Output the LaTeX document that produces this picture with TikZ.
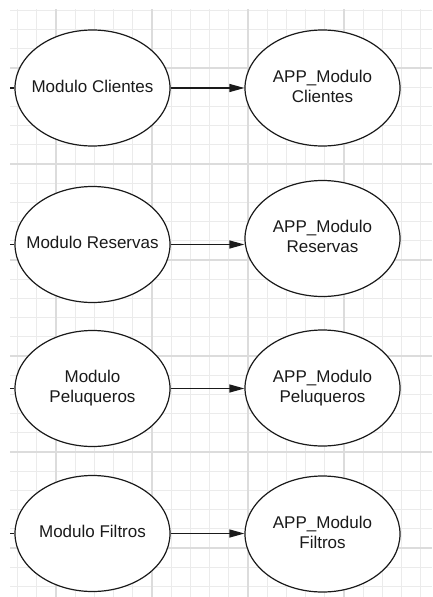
\documentclass[tikz,border=0pt]{standalone}
\usepackage{fontspec}
\setmainfont{Liberation Sans}
\usetikzlibrary{shapes.geometric,arrows.meta}

\definecolor{gridminor}{HTML}{EBEBEB}
\definecolor{gridmajor}{HTML}{DCDCDC}
\definecolor{ink}{HTML}{1A1A1A}

% label of zero width, so every ellipse keeps the same fixed size
\newcommand\modlabel[1]{\makebox[0pt]{\begin{tabular}{@{}c@{}}#1\end{tabular}}}

\tikzset{
  minorline/.style={draw=gridminor, line width=1pt},
  majorline/.style={draw=gridmajor, line width=1.1pt},
  module/.style={ellipse, draw=ink, line width=1.2pt, fill=white,
    minimum width=155pt, minimum height=116pt, inner sep=0pt,
    text=ink, font=\fontsize{17}{20}\selectfont},
  link/.style={draw=ink, line width=1.2pt,
    -{Triangle[length=15pt,width=8pt]}},
  stub/.style={draw=ink, line width=1.2pt}
}

\begin{document}
\begin{tikzpicture}[x=1pt,y=-1pt]
\useasboundingbox[fill=white] (0,0) rectangle (432,597);

% background grid
\begin{scope}
  \clip (10,9) rectangle (432,597);
  \foreach \i in {-8,...,15} {
    \draw[minorline] ({152+19.2*\i},9) -- ({152+19.2*\i},597);
  }
  \foreach \i in {-8,...,23} {
    \draw[minorline] (10,{164+19.2*\i}) -- (432,{164+19.2*\i});
  }
  \foreach \i in {-1,...,2} {
    \draw[majorline] ({152+96*\i},9) -- ({152+96*\i},597);
  }
  \foreach \i in {-1,...,4} {
    \draw[majorline] (10,{164+96*\i}) -- (432,{164+96*\i});
  }
\end{scope}

% modules
\node[module] (cli)  at (92.5,88)    {\modlabel{Modulo Clientes}};
\node[module] (acli) at (322.5,88)   {\modlabel{APP\_Modulo\\Clientes}};

\node[module] (res)  at (92.5,244.5) {\modlabel{Modulo Reservas}};
\node[module] (ares) at (322.5,238.5){\modlabel{APP\_Modulo\\Reservas}};

\node[module] (pel)  at (92.5,388.5) {\modlabel{Modulo\\Peluqueros}};
\node[module] (apel) at (322.5,388)  {\modlabel{APP\_Modulo\\Peluqueros}};

\node[module] (fil)  at (92.5,533.5) {\modlabel{Modulo Filtros}};
\node[module] (afil) at (322.5,534)  {\modlabel{APP\_Modulo\\Filtros}};

% incoming stubs at the left border
\coordinate (incli) at (10,88);
\coordinate (inres) at (10,244.5);
\coordinate (inpel) at (10,388.5);
\coordinate (infil) at (10,533.5);
\draw[stub] (incli) -- (cli.west);
\draw[stub] (inres) -- (res.west);
\draw[stub] (inpel) -- (pel.west);
\draw[stub] (infil) -- (fil.west);

% connectors
\draw[link] (cli.east) -- (acli.west);
\draw[link] (res.east) -- (res.east -| ares.west);
\draw[link] (pel.east) -- (pel.east -| apel.west);
\draw[link] (fil.east) -- (fil.east -| afil.west);
\end{tikzpicture}
\end{document}
